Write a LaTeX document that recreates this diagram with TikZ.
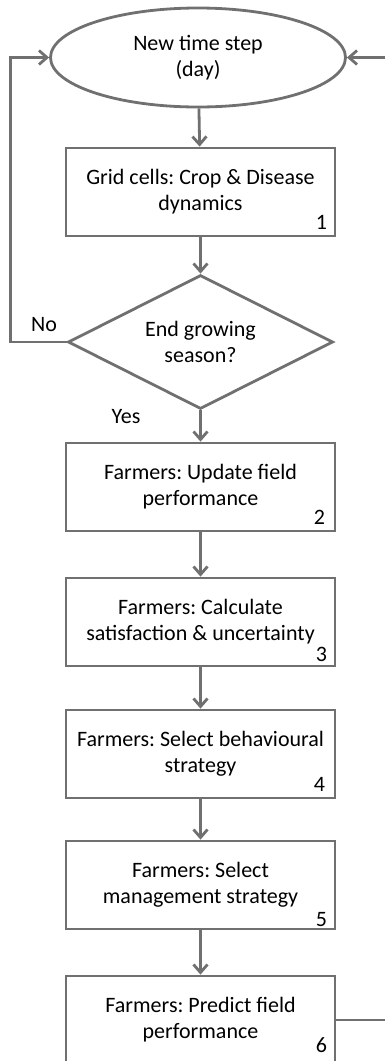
\documentclass[tikz,border=0pt]{standalone}
\usepackage{fontspec}
\setmainfont{Carlito}
\usetikzlibrary{shapes.geometric,arrows.meta}
\definecolor{lgray}{RGB}{112,112,112}
\frenchspacing

\begin{document}
\begin{tikzpicture}[x=1pt,y=-1pt,
	font=\fontsize{22}{26}\selectfont,
	bx/.style={draw=lgray,line width=2.8pt,minimum width=269pt,minimum height=88pt,align=center,inner sep=0pt},
	term/.style={ellipse,draw=lgray,line width=2.8pt,minimum width=295pt,minimum height=99pt,align=center,inner sep=0pt},
	dec/.style={diamond,aspect=2,draw=lgray,line width=2.8pt,minimum width=265pt,minimum height=134pt,align=center,inner sep=0pt},
	num/.style={inner sep=0pt},
	ln/.style={draw=lgray,line width=2.8pt},
	arr/.style={ln,-{Straight Barb[length=8pt,width=14pt]}}]
	%\draw[help lines] (0,0) grid[step=50] (385,1061);
	\clip (0,0) rectangle (385,1061);
	\node[term] (start) at (198,57.5) {New time step\\(day)};
	\node[bx] (b1) at (200.5,192) {Grid cells: Crop \& Disease\\dynamics};
	\node[dec] (endq) at (200.5,342) {End growing\\season?};
	\node[bx] (b2) at (200.5,487) {Farmers: Update field\\performance};
	\node[bx] (b3) at (200.5,622) {Farmers: Calculate\\satisfaction \& uncertainty};
	\node[bx] (b4) at (200.5,754) {Farmers: Select behavioural\\strategy};
	\node[bx] (b5) at (200.5,885) {Farmers: Select\\management strategy};
	\node[bx] (b6) at (200.5,1020) {Farmers: Predict field\\performance};
	\node[num] (n1) at ([shift={(-15,-15)}]b1.south east) {1};
	\node[num] (n2) at ([shift={(-17,-15)}]b2.south east) {2};
	\node[num] (n3) at ([shift={(-15,-13)}]b3.south east) {3};
	\node[num] (n4) at ([shift={(-17,-15)}]b4.south east) {4};
	\node[num] (n5) at ([shift={(-15,-11)}]b5.south east) {5};
	\node[num] (n6) at ([shift={(-15,-20)}]b6.south east) {6};
	\node (no) at (44,325) {No};
	\node (yes) at (126,417) {Yes};
	\coordinate (rb) at (395,1020);
	\coordinate (rt) at (395,57.5);
	\draw[arr] (start) -- (b1);
	\draw[arr] (b1) -- (endq);
	\draw[arr] (endq) -- (b2);
	\draw[arr] (b2) -- (b3);
	\draw[arr] (b3) -- (b4);
	\draw[arr] (b4) -- (b5);
	\draw[arr] (b5) -- (b6);
	\draw[arr] (endq.west) -- ++(-56,0) |- (start.west);
	\draw[ln] (b6.east) -- (rb);
	\draw[arr] (rt) -- (start.east);
\end{tikzpicture}
\end{document}
